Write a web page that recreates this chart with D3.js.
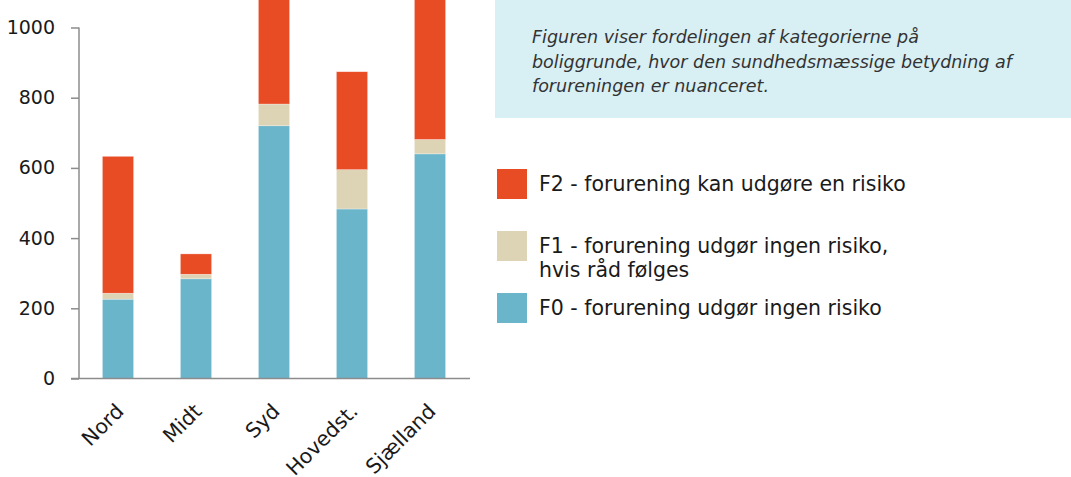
<!DOCTYPE html>
<html>
<head>
<meta charset="utf-8">
<script src="https://cdn.jsdelivr.net/npm/d3@7"></script>
<style>
  body { margin: 0; background: #fff; }
  svg { display: block; font-family: "DejaVu Sans", sans-serif; }
  .axis path, .axis line { stroke: #8c8c8c; stroke-width: 1.5; }
  .axis text { font-size: 19px; fill: #1a1a1a; font-family: "DejaVu Sans", sans-serif; }
  .axis.x text { font-size: 20.5px; }
</style>
</head>
<body>
<svg width="1071" height="477"></svg>
<script>
// regions and counts per category
var regions = ["Nord", "Midt", "Syd", "Hovedst.", "Sjælland"];
var f0 = [226, 284, 720, 483, 640];
var f1 = [17, 13, 62, 112, 41];
var f2 = [390, 58, 410, 279, 520];
var yTicks = [0, 200, 400, 600, 800, 1000];

var keys = ["f0", "f1", "f2"];
var colors = { f0: "#6bb5cb", f1: "#ddd3b5", f2: "#e84c25" };
var legendItems = [
  { key: "f2", lines: ["F2 - forurening kan udgøre en risiko"] },
  { key: "f1", lines: ["F1 - forurening udgør ingen risiko,", "hvis råd følges"] },
  { key: "f0", lines: ["F0 - forurening udgør ingen risiko"] }
];
var note = ["Figuren viser fordelingen af kategorierne på",
            "boliggrunde, hvor den sundhedsmæssige betydning af",
            "forureningen er nuanceret."];

var rows = regions.map(function (r, i) {
  return { region: r, f0: f0[i], f1: f1[i], f2: f2[i] };
});

var svg = d3.select("svg");

var x = d3.scaleBand()
  .domain(regions)
  .range([79, 469])
  .paddingInner(0.6)
  .paddingOuter(0.3);

var y = d3.scaleLinear()
  .domain([0, 1000])
  .range([378.5, 27.5]);

var stack = d3.stack().keys(keys)(rows);

svg.append("g")
  .selectAll("g")
  .data(stack)
  .enter().append("g")
  .attr("fill", function (d) { return colors[d.key]; })
  .selectAll("rect")
  .data(function (d) { return d; })
  .enter().append("rect")
  .attr("x", function (d) { return x(d.data.region); })
  .attr("width", x.bandwidth())
  .attr("y", function (d) { return y(d[1]); })
  .attr("height", function (d) { return y(d[0]) - y(d[1]); })
  .attr("stroke", "#fff")
  .attr("stroke-opacity", 0.5)
  .attr("stroke-width", 0.6);

// y axis
var yAxis = svg.append("g")
  .attr("class", "axis")
  .attr("transform", "translate(79,0)")
  .call(d3.axisLeft(y).tickValues(yTicks).tickFormat(d3.format("d"))
    .tickSize(8).tickPadding(16).tickSizeOuter(0));
yAxis.select(".domain").attr("d", "M0," + y(0) + "V" + y(1000));

// x axis
var xAxis = svg.append("g")
  .attr("class", "axis x")
  .attr("transform", "translate(0," + y(0) + ")")
  .call(d3.axisBottom(x).tickSize(0).tickSizeOuter(0));
xAxis.select(".domain").attr("d", "M71,0H470");
xAxis.selectAll("text")
  .attr("text-anchor", "end")
  .attr("dy", null)
  .attr("y", 0)
  .attr("transform", "translate(7,34) rotate(-45)");

// note box
svg.append("rect")
  .attr("x", 495).attr("y", 0)
  .attr("width", 576).attr("height", 118)
  .attr("fill", "#d8eff4");

svg.append("g").selectAll("text")
  .data(note)
  .enter().append("text")
  .attr("x", 532)
  .attr("y", function (d, i) { return 43 + i * 24.5; })
  .attr("font-size", 17.5)
  .attr("font-style", "italic")
  .attr("fill", "#333")
  .text(function (d) { return d; });

// legend
var legendY = { f2: 169, f1: 231, f0: 293 };
var leg = svg.append("g").selectAll("g")
  .data(legendItems)
  .enter().append("g")
  .attr("transform", function (d) { return "translate(497," + legendY[d.key] + ")"; });

leg.append("rect")
  .attr("width", 30).attr("height", 30)
  .attr("fill", function (d) { return colors[d.key]; });

leg.each(function (d) {
  d3.select(this).selectAll("text")
    .data(d.lines)
    .enter().append("text")
    .attr("x", 42)
    .attr("y", function (t, i) { return 22 + i * 23.5; })
    .attr("font-size", 20.5)
    .attr("fill", "#1a1a1a")
    .text(function (t) { return t; });
});
</script>
</body>
</html>
